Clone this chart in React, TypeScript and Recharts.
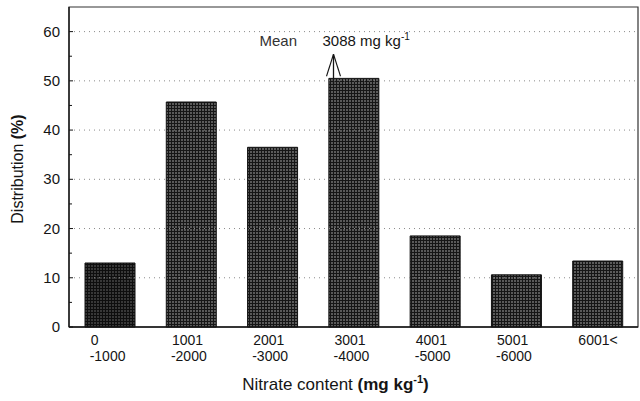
import {
  BarChart,
  Bar,
  Cell,
  XAxis,
  YAxis,
  Label,
  ReferenceLine,
  ReferenceArea,
} from "recharts";

// Nitrate content classes (mg kg-1), split into the two printed lines
const rangeStart = ["0", "1001", "2001", "3001", "4001", "5001", "6001<"];
const rangeEnd = ["-1000", "-2000", "-3000", "-4000", "-5000", "-6000", ""];
// Distribution (%)
const distribution = [13.0, 45.7, 36.5, 50.5, 18.5, 10.6, 13.4];

const yMajorTicks = [0, 10, 20, 30, 40, 50, 60];
const yMinorTicks = [5, 15, 25, 35, 45, 55];
const gridLines = [10, 20, 30, 40, 50, 60];
const yDomain = [0, 65];

// mean annotation: value and where the arrow sits (y in %)
const meanValue = 3088;
const meanClass = 3;
const arrowFrom = 50.5;
const arrowTo = 55.4;

const data = rangeStart.map((s, i) => ({
  cat: s + "|" + rangeEnd[i],
  value: distribution[i],
}));

const FONT = "'Liberation Sans', Arial, sans-serif";
const INK = "#151515";

function XTick(props: any) {
  const { x, y, payload } = props;
  const [a, b] = String(payload.value).split("|");
  return (
    <g>
      <text x={x - 19} y={y + 18} fontSize={14} fill={INK} fontFamily={FONT}>
        {a}
      </text>
      {b ? (
        <text x={x - 20} y={y + 34} fontSize={14} fill={INK} fontFamily={FONT}>
          {b}
        </text>
      ) : null}
    </g>
  );
}

function YTick(props: any) {
  const { x, y, payload } = props;
  const major = payload.value % 10 === 0;
  return (
    <g>
      <line x1={x} x2={x + (major ? 4 : 3)} y1={y} y2={y} stroke={INK} />
      {major ? (
        <text
          x={x - 9}
          y={y + 5}
          textAnchor="end"
          fontSize={15}
          fill={INK}
          fontFamily={FONT}
        >
          {payload.value}
        </text>
      ) : null}
    </g>
  );
}

function XTitle(props: any) {
  const { x, y, width } = props.viewBox;
  return (
    <text
      x={x + width / 2 - 18}
      y={y + 63}
      textAnchor="middle"
      fontSize={17}
      fill={INK}
      fontFamily={FONT}
    >
      Nitrate content <tspan fontWeight="bold">(mg kg</tspan>
      <tspan fontSize={11} dy={-7} fontWeight="bold">
        -1
      </tspan>
      <tspan dy={7} fontWeight="bold">)</tspan>
    </text>
  );
}

function YTitle(props: any) {
  const { x, y, height } = props.viewBox;
  const cx = x + 23;
  const cy = y + height / 2 + 2;
  return (
    <text
      x={cx}
      y={cy}
      transform={`rotate(-90 ${cx} ${cy})`}
      textAnchor="middle"
      fontSize={16}
      fill={INK}
      fontFamily={FONT}
    >
      Distribution <tspan fontWeight="bold">(%)</tspan>
    </text>
  );
}

function MeanArrow(props: any) {
  const { x1, y1, y2 } = props;
  const ax = x1 - 20;
  const top = Math.min(y1, y2);
  const bottom = Math.max(y1, y2);
  return (
    <g>
      <line x1={ax} x2={ax} y1={top} y2={bottom + 6} stroke={INK} strokeWidth={1.3} />
      <line x1={ax} x2={ax - 7} y1={top} y2={top + 22} stroke={INK} strokeWidth={1.1} />
      <line x1={ax} x2={ax + 7} y1={top} y2={top + 22} stroke={INK} strokeWidth={1.1} />
      <text x={ax - 74} y={top - 8} fontSize={15} fill="#333" fontFamily={FONT}>
        Mean
      </text>
      <text x={ax - 11} y={top - 8} fontSize={15} fill={INK} fontFamily={FONT}>
        {meanValue} mg kg
        <tspan fontSize={10} dy={-6}>
          -1
        </tspan>
      </text>
    </g>
  );
}

export default function App() {
  return (
    <div style={{ position: "absolute", left: 0, top: 0, background: "#fff" }}>
      <BarChart
        width={640}
        height={401}
        data={data}
        margin={{ top: 7, right: 2, bottom: 0, left: 0 }}
      >
        <defs>
          <pattern id="hatch" width="3" height="3" patternUnits="userSpaceOnUse">
            <rect width="3" height="3" fill="#5a5a5a" />
            <path d="M0 0.5H3M0.5 0V3" stroke="#161616" strokeWidth={1} />
          </pattern>
          <pattern id="hatchDark" width="3" height="3" patternUnits="userSpaceOnUse">
            <rect width="3" height="3" fill="#383838" />
            <path d="M0 0.5H3M0.5 0V3" stroke="#0e0e0e" strokeWidth={1} />
          </pattern>
        </defs>
        {gridLines.map((v) => (
          <ReferenceLine
            key={v}
            y={v}
            stroke="#8a8a8a"
            strokeDasharray="1 4"
          />
        ))}
        <ReferenceArea
          y1={yDomain[0]}
          y2={yDomain[1]}
          fill="none"
          stroke="#333"
          strokeWidth={1.2}
          ifOverflow="visible"
        />
        <XAxis
          dataKey="cat"
          tick={<XTick />}
          tickLine={false}
          tickSize={0}
          tickMargin={0}
          height={74}
          interval={0}
          axisLine={{ stroke: INK, strokeWidth: 1.3 }}
        >
          <Label content={<XTitle />} />
        </XAxis>
        <YAxis
          domain={yDomain}
          ticks={[...yMajorTicks, ...yMinorTicks].sort((a, b) => a - b)}
          tick={<YTick />}
          tickLine={false}
          tickSize={0}
          tickMargin={0}
          width={69}
          interval={0}
          axisLine={{ stroke: INK, strokeWidth: 1.3 }}
        >
          <Label content={<YTitle />} />
        </YAxis>
        <Bar
          dataKey="value"
          barSize={50}
          stroke="#111"
          strokeWidth={1}
          isAnimationActive={false}
        >
          {data.map((d, i) => (
            <Cell key={d.cat} fill={i === 0 ? "url(#hatchDark)" : "url(#hatch)"} />
          ))}
        </Bar>
        <ReferenceLine
          segment={[
            { x: data[meanClass].cat, y: arrowFrom },
            { x: data[meanClass].cat, y: arrowTo },
          ]}
          shape={<MeanArrow />}
        />
      </BarChart>
    </div>
  );
}
